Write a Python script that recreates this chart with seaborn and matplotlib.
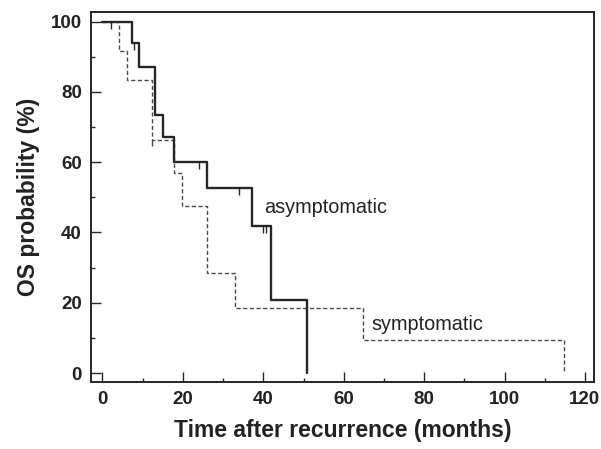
import numpy as np
import pandas as pd
import matplotlib
matplotlib.use("Agg")
import matplotlib.pyplot as plt
from matplotlib.path import Path
from matplotlib.ticker import MultipleLocator
import seaborn as sns

# ---- data ----
asym_time = [0, 7.3, 9.2, 13.1, 15.0, 17.9, 25.9, 37.1, 41.8, 50.8]
asym_surv = [100, 93.8, 87.0, 73.4, 67.1, 60.0, 52.6, 41.9, 20.8, 0]
asym_cens_time = [2.1, 7.9, 24.0, 34.0, 40.0, 40.7]
asym_cens_surv = [100, 93.8, 60.0, 52.6, 41.9, 41.9]

sym_time = [0, 4.2, 6.0, 12.2, 17.9, 19.7, 25.9, 33.0, 64.7, 114.9]
sym_surv = [100, 91.7, 83.3, 66.3, 57.0, 47.6, 28.4, 18.6, 9.4, 0]
sym_cens_time = [12.4]
sym_cens_surv = [66.3]

x_ticks = [0, 20, 40, 60, 80, 100, 120]
y_ticks = [0, 20, 40, 60, 80, 100]

sns.set_theme(style="ticks")
plt.rcParams["font.family"] = ["Liberation Sans", "DejaVu Sans"]

fig = plt.figure(figsize=(6.01, 4.49), dpi=100)
ax = fig.add_axes([91 / 601, 1 - 382 / 449, (594 - 91) / 601, (382 - 12) / 449])

dark = "#262626"
grey = "#4a4a4a"

df_sym = pd.DataFrame({"time": sym_time, "surv": sym_surv})
df_asym = pd.DataFrame({"time": asym_time, "surv": asym_surv})

sns.lineplot(data=df_sym, x="time", y="surv", ax=ax, estimator=None,
             drawstyle="steps-post", color=grey, linewidth=1.0,
             linestyle=(0, (3, 1.8)))
sns.lineplot(data=df_asym, x="time", y="surv", ax=ax, estimator=None,
             drawstyle="steps-post", color=dark, linewidth=1.7)

tick_marker = Path([(0, 0), (0, -1)], [Path.MOVETO, Path.LINETO])
ax.plot(asym_cens_time, asym_cens_surv, linestyle="none", marker=tick_marker,
        markersize=10, markeredgewidth=1.0, color=dark)
ax.plot(sym_cens_time, sym_cens_surv, linestyle="none", marker=tick_marker,
        markersize=8, markeredgewidth=1.0, color=grey)

ax.text(40.3, 47, "asymptomatic", fontsize=14.3, color="#222222",
        ha="left", va="center")
ax.text(66.8, 13.9, "symptomatic", fontsize=14.3, color="#222222",
        ha="left", va="center")

ax.set_xlim(-2.86, 122.26)
ax.set_ylim(-2.56, 102.73)
ax.set_xticks(x_ticks)
ax.set_yticks(y_ticks)
ax.xaxis.set_minor_locator(MultipleLocator(10))
ax.yaxis.set_minor_locator(MultipleLocator(10))
ax.tick_params(which="major", direction="in", length=7, width=1.0,
               color=dark, labelsize=13.5, labelcolor="#222222", pad=6.5)
ax.tick_params(which="minor", direction="in", length=3.2, width=1.0, color=dark)
for lab in ax.get_xticklabels() + ax.get_yticklabels():
    lab.set_fontweight("bold")

for s in ax.spines.values():
    s.set_visible(True)
    s.set_color(dark)
    s.set_linewidth(1.4)

ax.set_xlabel("Time after recurrence (months)", fontsize=16.5,
              fontweight="bold", color="#222222", labelpad=8)
ax.set_ylabel("OS probability (%)", fontsize=16.5,
              fontweight="bold", color="#222222", labelpad=8)

fig.savefig("out.png", dpi=100, facecolor="white")
